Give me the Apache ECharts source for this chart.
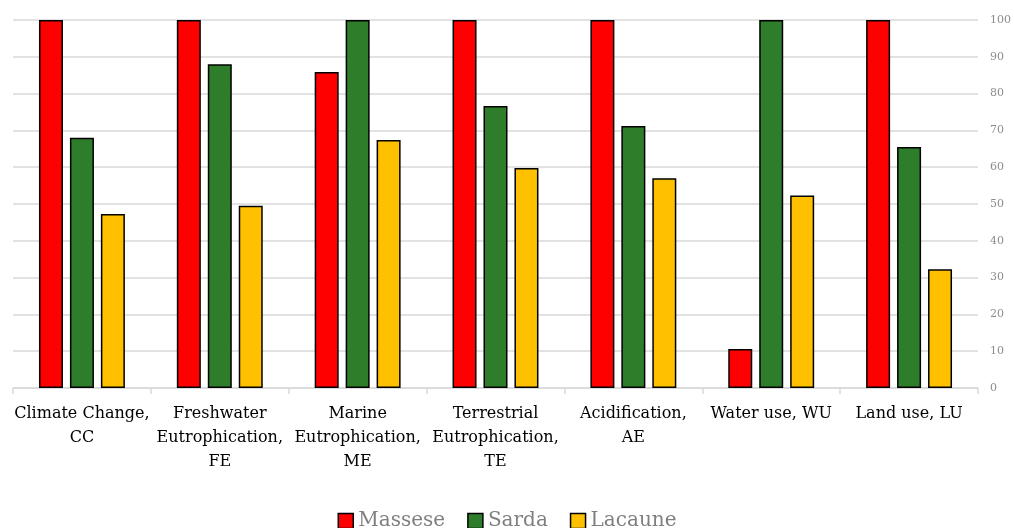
<!DOCTYPE html>
<html>
<head>
<meta charset="utf-8">
<script src="https://cdn.jsdelivr.net/npm/echarts@6/dist/echarts.min.js"></script>
<style>html,body{margin:0;padding:0;background:#fff}#c{width:1014px;height:528px}</style>
</head>
<body>
<div id="c"></div>
<script>
const categories = ["Climate Change,\nCC", "Freshwater\nEutrophication,\nFE", "Marine\nEutrophication,\nME", "Terrestrial\nEutrophication,\nTE", "Acidification,\nAE", "Water use, WU", "Land use, LU"];
const massese = [100, 100, 85.9, 100, 100, 10.6, 100];
const sarda = [68, 88, 100, 76.6, 71.2, 100, 65.5];
const lacaune = [47.3, 49.5, 67.4, 59.8, 57, 52.3, 32.3];
const yTicks = [0, 10, 20, 30, 40, 50, 60, 70, 80, 90, 100];

const chart = echarts.init(document.getElementById('c'));
const font = "'DejaVu Serif', serif";
function s(name, data, color) {
  return {
    name, type: 'bar', data,
    barWidth: 24, barGap: '29%',
    itemStyle: { color, borderColor: '#000', borderWidth: 1.5 }
  };
}
chart.setOption({
  animation: false,
  grid: { left: 13, right: 35, top: 20, bottom: 140 },
  legend: {
    top: 506, itemWidth: 15, itemHeight: 15, itemGap: 22,
    icon: 'rect',
    textStyle: { fontFamily: font, fontSize: 20, color: '#7f7f7f' },
    itemStyle: { borderColor: '#000', borderWidth: 1.5 }
  },
  xAxis: {
    type: 'category', data: categories,
    axisLine: { lineStyle: { color: '#d9d9d9', width: 1.5 } },
    axisTick: { show: true, length: 6, lineStyle: { color: '#d9d9d9', width: 1.5 } },
    axisLabel: { fontFamily: font, fontSize: 16, color: '#000', lineHeight: 24, margin: 14, interval: 0 }
  },
  yAxis: {
    type: 'value', position: 'right', min: 0, max: 100, interval: 10,
    axisLine: { show: false }, axisTick: { show: false },
    splitLine: { lineStyle: { color: '#d9d9d9', width: 1.5 } },
    axisLabel: { fontFamily: font, fontSize: 11, color: '#8c8c8c', margin: 12,
      formatter: v => yTicks.includes(v) ? String(v) : '' }
  },
  series: [s('Massese', massese, '#ff0000'), s('Sarda', sarda, '#2e7d2a'), s('Lacaune', lacaune, '#ffc000')]
});
</script>
</body>
</html>
